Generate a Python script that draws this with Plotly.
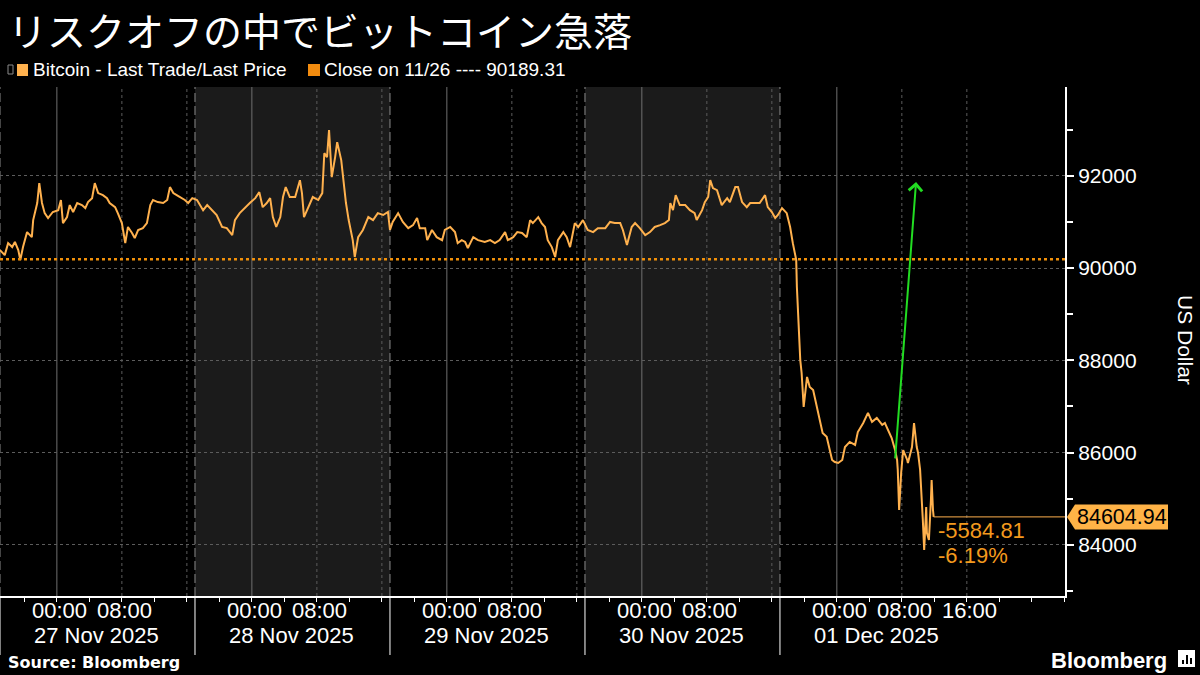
import plotly.graph_objects as go

# ---------------- data ----------------
YEAR = "2025-"
times = [
    "11-26 17:00", "11-26 17:35", "11-26 18:00", "11-26 18:30", "11-26 18:50", "11-26 19:15",
    "11-26 19:30", "11-26 19:50", "11-26 20:20", "11-26 20:55", "11-26 21:05", "11-26 21:35",
    "11-26 21:50", "11-26 22:10", "11-26 22:30", "11-26 22:55", "11-26 23:30", "11-27 00:10",
    "11-27 00:30", "11-27 00:45", "11-27 01:15", "11-27 01:35", "11-27 02:00", "11-27 02:30",
    "11-27 03:05", "11-27 03:30", "11-27 03:50", "11-27 04:20", "11-27 04:40", "11-27 05:05",
    "11-27 05:40", "11-27 06:10", "11-27 06:30", "11-27 07:10", "11-27 07:30", "11-27 08:00",
    "11-27 08:25", "11-27 08:45", "11-27 09:15", "11-27 09:35", "11-27 10:00", "11-27 10:35",
    "11-27 11:05", "11-27 11:30", "11-27 11:50", "11-27 12:25", "11-27 13:05", "11-27 13:35",
    "11-27 13:55", "11-27 14:20", "11-27 14:45", "11-27 15:25", "11-27 15:45", "11-27 16:10",
    "11-27 16:40", "11-27 17:15", "11-27 17:35", "11-27 18:00", "11-27 18:30", "11-27 19:05",
    "11-27 19:40", "11-27 20:20", "11-27 20:55", "11-27 21:35", "11-27 21:55", "11-27 22:30",
    "11-27 23:10", "11-27 23:45", "11-28 00:25", "11-28 00:55", "11-28 01:20", "11-28 01:50",
    "11-28 02:15", "11-28 02:35", "11-28 03:00", "11-28 03:30", "11-28 03:50", "11-28 04:10",
    "11-28 04:40", "11-28 05:20", "11-28 05:55", "11-28 06:10", "11-28 06:25", "11-28 06:55",
    "11-28 07:30", "11-28 08:10", "11-28 08:40", "11-28 08:55", "11-28 09:15", "11-28 09:30",
    "11-28 09:50", "11-28 10:15", "11-28 10:30", "11-28 11:00", "11-28 11:15", "11-28 11:35",
    "11-28 11:55", "11-28 12:25", "11-28 12:40", "11-28 13:05", "11-28 13:40", "11-28 14:20",
    "11-28 14:55", "11-28 15:30", "11-28 16:10", "11-28 16:45", "11-28 17:00", "11-28 17:20",
    "11-28 18:00", "11-28 18:35", "11-28 19:15", "11-28 19:50", "11-28 20:20", "11-28 20:40",
    "11-28 21:20", "11-28 21:35", "11-28 22:10", "11-28 22:45", "11-28 23:25", "11-28 23:45",
    "11-29 00:25", "11-29 01:00", "11-29 01:20", "11-29 01:50", "11-29 02:15", "11-29 02:35",
    "11-29 03:15", "11-29 03:50", "11-29 04:40", "11-29 05:20", "11-29 05:55", "11-29 06:30",
    "11-29 07:10", "11-29 07:30", "11-29 08:10", "11-29 08:40", "11-29 09:15", "11-29 09:50",
    "11-29 10:15", "11-29 10:35", "11-29 11:15", "11-29 11:40", "11-29 12:05", "11-29 12:25",
    "11-29 12:55", "11-29 13:20", "11-29 13:40", "11-29 14:20", "11-29 14:45", "11-29 15:10",
    "11-29 15:45", "11-29 16:10", "11-29 16:45", "11-29 17:20", "11-29 18:00", "11-29 18:35",
    "11-29 19:30", "11-29 20:05", "11-29 20:40", "11-29 21:20", "11-29 21:40", "11-29 22:10",
    "11-29 22:45", "11-29 23:10", "11-29 23:45", "11-30 00:25", "11-30 01:00", "11-30 01:35",
    "11-30 02:15", "11-30 02:50", "11-30 03:20", "11-30 03:30", "11-30 03:50", "11-30 04:10",
    "11-30 04:40", "11-30 05:20", "11-30 05:55", "11-30 06:30", "11-30 06:45", "11-30 07:25",
    "11-30 07:45", "11-30 08:10", "11-30 08:25", "11-30 08:45", "11-30 09:15", "11-30 09:50",
    "11-30 10:30", "11-30 10:50", "11-30 11:30", "11-30 11:50", "11-30 12:20", "11-30 12:55",
    "11-30 13:20", "11-30 13:55", "11-30 14:30", "11-30 15:10", "11-30 15:30", "11-30 16:00",
    "11-30 16:25", "11-30 16:45", "11-30 17:15", "11-30 17:50", "11-30 18:15", "11-30 18:35",
    "11-30 19:00", "11-30 19:05", "11-30 19:15", "11-30 19:20", "11-30 19:30", "11-30 19:40",
    "11-30 19:55", "11-30 20:20", "11-30 20:40", "11-30 21:05", "11-30 21:35", "11-30 21:55",
    "11-30 22:15", "11-30 22:45", "11-30 23:10", "11-30 23:25", "11-30 23:45", "12-01 00:10",
    "12-01 00:40", "12-01 01:00", "12-01 01:35", "12-01 02:15", "12-01 02:35", "12-01 03:15",
    "12-01 03:50", "12-01 04:20", "12-01 04:55", "12-01 05:35", "12-01 05:55", "12-01 06:20",
    "12-01 06:45", "12-01 07:10", "12-01 07:25", "12-01 07:30", "12-01 07:40", "12-01 07:55",
    "12-01 08:10", "12-01 08:40", "12-01 08:45", "12-01 09:15", "12-01 09:30", "12-01 09:50",
    "12-01 10:00", "12-01 10:15", "12-01 10:30", "12-01 10:35", "12-01 10:45", "12-01 11:00",
    "12-01 11:05", "12-01 11:20", "12-01 11:35", "12-01 11:40", "12-01 11:50", "12-01 11:55",
]
prices = [
    90390, 90280, 90540, 90455, 90565, 90390,
    90175, 90455, 90780, 90670, 91040, 91410,
    91840, 91410, 91190, 91085, 91215, 91255,
    91475, 90975, 91105, 91365, 91215, 91410,
    91365, 91300, 91430, 91515, 91840, 91625,
    91580, 91515, 91410, 91320, 91190, 90975,
    90540, 90890, 90760, 90650, 90825, 90865,
    90975, 91365, 91475, 91430, 91410, 91475,
    91755, 91625, 91580, 91515, 91475, 91410,
    91515, 91475, 91365, 91255, 91365, 91255,
    91150, 90890, 90865, 90715, 91040, 91190,
    91320, 91410, 91515, 91645, 91320, 91410,
    91515, 91105, 90890, 91105, 91540, 91755,
    91540, 91540, 91905, 91625, 91105, 91320,
    91540, 91475, 91625, 92490, 92405, 92990,
    91970, 92405, 92730, 92340, 91905, 91410,
    91040, 90605, 90240, 90670, 90825, 91105,
    91040, 91190, 91150, 91215, 90825, 91000,
    91190, 91000, 90865, 90930, 91085, 90865,
    90865, 90605, 90825, 90670, 90605, 90825,
    90890, 90780, 90540, 90605, 90565, 90435,
    90670, 90605, 90565, 90605, 90540, 90605,
    90780, 90605, 90670, 90780, 90760, 90670,
    91040, 90975, 91105, 90975, 90890, 90605,
    90455, 90240, 90605, 90780, 90670, 90455,
    90975, 90890, 91040, 90825, 90780, 90865,
    90865, 91000, 90975, 90975, 90825, 90500,
    90890, 90975, 90865, 90715, 90780, 90890,
    90930, 90975, 91040, 91410, 91255, 91580,
    91365, 91365, 91255, 91190, 91040, 91255,
    91430, 91540, 91905, 91735, 91690, 91365,
    91515, 91430, 91755, 91755, 91430, 91320,
    91410, 91410, 91410, 91580, 91320, 91215,
    91085, 91150, 91300, 91190, 90890, 90540,
    90175, 89590, 89025, 88440, 88005, 87725,
    86990, 87640, 87420, 87355, 86925, 86705,
    86425, 86340, 86055, 85840, 85795, 85775,
    85840, 86120, 86230, 86165, 86445, 86640,
    86860, 86665, 86750, 86600, 86640, 86490,
    86315, 86055, 85840, 85625, 84755, 85560,
    86055, 85840, 85775, 86120, 86640, 86120,
    85990, 85625, 84975, 84540, 83890, 84820,
    84260, 84105, 84975, 85405, 84755, 84604.94,
]

close_prev = 90189.31
last_price = 84604.94
change_abs = "-5584.81"
change_pct = "-6.19%"
arrow_tail = ("2025-12-01 07:10", 85840)
arrow_tip = ("2025-12-01 09:45", 91864)

days = ["2025-11-27", "2025-11-28", "2025-11-29", "2025-11-30", "2025-12-01"]
date_labels = ["27 Nov 2025", "28 Nov 2025", "29 Nov 2025", "30 Nov 2025", "01 Dec 2025"]
time_labels = [["00:00", "08:00"], ["00:00", "08:00"], ["00:00", "08:00"],
               ["00:00", "08:00"], ["00:00", "08:00", "16:00"]]
shade_spans = [("2025-11-27 17:00", "2025-11-28 17:00"), ("2025-11-29 17:00", "2025-11-30 17:00")]
session_bounds = ["2025-11-26 17:00", "2025-11-27 17:00", "2025-11-28 17:00",
                  "2025-11-29 17:00", "2025-11-30 17:00"]
y_ticks = [84000, 86000, 88000, 90000, 92000]

title = "リスクオフの中でビットコイン急落"
legend1 = "Bitcoin - Last Trade/Last Price"
legend2 = "Close on 11/26 ---- 90189.31"

X_START, X_END = "2025-11-26 17:00", "2025-12-02 04:05"
Y_MIN, Y_MAX = 82890, 93925

# ---------------- layout helpers ----------------
W, H = 1200, 675
ML, MR, MT, MB = 0, 135, 87, 79
PW, PH = W - ML - MR, H - MT - MB


def px(xp):
    return (xp - ML) / PW


def py(yp):
    return (H - MB - yp) / PH


LINE_C = "#FFB14E"
CLOSE_C = "#F0900A"
CHG_C = "#F39A1E"
FONT = "Liberation Sans"

ts = [YEAR + t for t in times]

fig = go.Figure()
fig.add_trace(go.Scatter(x=ts, y=prices, mode="lines",
                         line=dict(color=LINE_C, width=2), hoverinfo="skip",
                         showlegend=False))

shapes = []
for a, b in shade_spans:
    shapes.append(dict(type="rect", xref="x", yref="paper", x0=a, x1=b, y0=0, y1=1,
                       fillcolor="#1b1b1b", line=dict(width=0), layer="below"))
for d in days:
    shapes.append(dict(type="line", xref="x", yref="paper", x0=d + " 00:00", x1=d + " 00:00",
                       y0=0, y1=1, line=dict(color="#707070", width=1), layer="below"))
    for hh in ["08:00", "16:00"]:
        shapes.append(dict(type="line", xref="x", yref="paper", x0=d + " " + hh, x1=d + " " + hh,
                           y0=0, y1=1, line=dict(color="#5c5c5c", width=1, dash="3px,3px"),
                           layer="below"))
for s in session_bounds:
    shapes.append(dict(type="line", xref="x", yref="paper", x0=s, x1=s, y0=0, y1=1,
                       line=dict(color="#8a8a8a", width=1, dash="9px,4px"), layer="below"))
    shapes.append(dict(type="line", xref="x", yref="paper", x0=s, x1=s, y0=0, y1=py(655),
                       line=dict(color="#ffffff", width=1)))

# previous close dotted line
shapes.append(dict(type="line", xref="paper", yref="y", x0=0, x1=1, y0=close_prev, y1=close_prev,
                   line=dict(color=CLOSE_C, width=2.5, dash="dot")))
# last price line to axis
shapes.append(dict(type="line", xref="x", yref="y", x0=ts[-1], x1=X_END, y0=last_price,
                   y1=last_price, line=dict(color=LINE_C, width=1)))
# price tag box
half = 12.5 * (Y_MAX - Y_MIN) / PH
shapes.append(dict(type="path", xref="paper", yref="y",
                   path=f"M {px(1067)},{last_price} L {px(1075)},{last_price + half} "
                        f"L {px(1168)},{last_price + half} L {px(1168)},{last_price - half} "
                        f"L {px(1075)},{last_price - half} Z",
                   fillcolor="#FFB347", line=dict(width=0)))
# legend squares and icon
shapes.append(dict(type="rect", xref="paper", yref="paper", x0=px(8), x1=px(13), y0=py(74),
                   y1=py(65), line=dict(color="#8a8a8a", width=1)))
shapes.append(dict(type="rect", xref="paper", yref="paper", x0=px(17), x1=px(28), y0=py(76),
                   y1=py(64), fillcolor=LINE_C, line=dict(width=0)))
shapes.append(dict(type="rect", xref="paper", yref="paper", x0=px(308), x1=px(320), y0=py(76),
                   y1=py(64), fillcolor="#F28C0F", line=dict(width=0)))
# Bloomberg logo icon
shapes.append(dict(type="rect", xref="paper", yref="paper", x0=px(1178), x1=px(1195),
                   y0=py(667), y1=py(650), fillcolor="#ffffff", line=dict(width=0)))
for bx, top in [(1182, 660), (1186, 655), (1190, 658)]:
    shapes.append(dict(type="rect", xref="paper", yref="paper", x0=px(bx), x1=px(bx + 2),
                       y0=py(664), y1=py(top), fillcolor="#000000", line=dict(width=0)))

ann = []
ann.append(dict(text=title, x=px(6), y=py(29), xref="paper", yref="paper", xanchor="left",
                yanchor="middle", showarrow=False,
                font=dict(family="Noto Sans CJK JP", size=39, color="#ffffff")))
ann.append(dict(text=legend1, x=px(31), y=py(70), xref="paper", yref="paper", xanchor="left",
                yanchor="middle", showarrow=False, font=dict(size=19, color="#ffffff")))
ann.append(dict(text=legend2, x=px(322), y=py(70), xref="paper", yref="paper", xanchor="left",
                yanchor="middle", showarrow=False, font=dict(size=19, color="#ffffff")))
for d, dl, tl in zip(days, date_labels, time_labels):
    for lab in tl:
        ann.append(dict(text=lab, x=d + " " + lab, y=py(610), xref="x", yref="paper",
                        xanchor="center", yanchor="middle", xshift=3, showarrow=False,
                        font=dict(size=22, color="#ffffff")))
    ann.append(dict(text=dl, x=d + " 00:00", y=py(635), xref="x", yref="paper",
                    xanchor="center", yanchor="middle", xshift=40, showarrow=False,
                    font=dict(size=22, color="#ffffff")))
ann.append(dict(text="<b>Source: Bloomberg</b>", x=px(6), y=py(662), xref="paper", yref="paper",
                xanchor="left", yanchor="middle", showarrow=False,
                font=dict(family="DejaVu Sans", size=16, color="#ffffff")))
ann.append(dict(text="<b>Bloomberg</b>", x=px(1169), y=py(660), xref="paper", yref="paper",
                xanchor="right", yanchor="middle", showarrow=False,
                font=dict(size=22, color="#ffffff")))
ann.append(dict(text="US Dollar", x=px(1186), y=py(340), xref="paper", yref="paper",
                xanchor="center", yanchor="middle", textangle=90, showarrow=False,
                font=dict(size=21, color="#ffffff")))
ann.append(dict(text=change_abs, x=px(936), y=py(530), xref="paper", yref="paper",
                xanchor="left", yanchor="middle", showarrow=False,
                font=dict(size=22, color=CHG_C)))
ann.append(dict(text=change_pct, x=px(936), y=py(555), xref="paper", yref="paper",
                xanchor="left", yanchor="middle", showarrow=False,
                font=dict(size=22, color=CHG_C)))
ann.append(dict(text=f"{last_price:.2f}", x=px(1121.5), y=last_price, xref="paper", yref="y",
                xanchor="center", yanchor="middle", showarrow=False,
                font=dict(size=21.5, color="#000000")))
ann.append(dict(text="", x=arrow_tip[0], y=arrow_tip[1], ax=arrow_tail[0], ay=arrow_tail[1],
                xref="x", yref="y", axref="x", ayref="y", showarrow=True,
                arrowhead=4, arrowsize=1.3, arrowwidth=2, arrowcolor="#22DD22"))

fig.update_layout(
    width=W, height=H, margin=dict(l=ML, r=MR, t=MT, b=MB),
    paper_bgcolor="#000000", plot_bgcolor="#000000",
    font=dict(family=FONT, color="#ffffff"),
    shapes=shapes, annotations=ann, showlegend=False,
    xaxis=dict(type="date", range=[X_START, X_END], showgrid=False, zeroline=False,
               showline=True, linecolor="#ffffff", linewidth=1.5,
               ticks="outside", ticklen=4, tickcolor="#ffffff", tickwidth=1,
               tick0="2025-11-27 00:00", dtick=4 * 3600 * 1000, showticklabels=False,
               fixedrange=True),
    yaxis=dict(side="right", range=[Y_MIN, Y_MAX], tickvals=y_ticks, tickformat="d",
               tickfont=dict(size=21, color="#ffffff"), ticks="outside", ticklen=7,
               tickwidth=2, tickcolor="#ffffff", showline=True, linecolor="#ffffff",
               linewidth=2, showgrid=True, gridcolor="#5c5c5c", griddash="3px,3px",
               zeroline=False, fixedrange=True,
               minor=dict(dtick=1000, tick0=0, ticks="outside", ticklen=6,
                          tickcolor="#ffffff", showgrid=False)),
)

fig.write_html("out.html", config={"displayModeBar": False},
               post_script="document.body.style.margin='0';document.body.style.padding='0';"
                           "document.body.style.background='#000';")
